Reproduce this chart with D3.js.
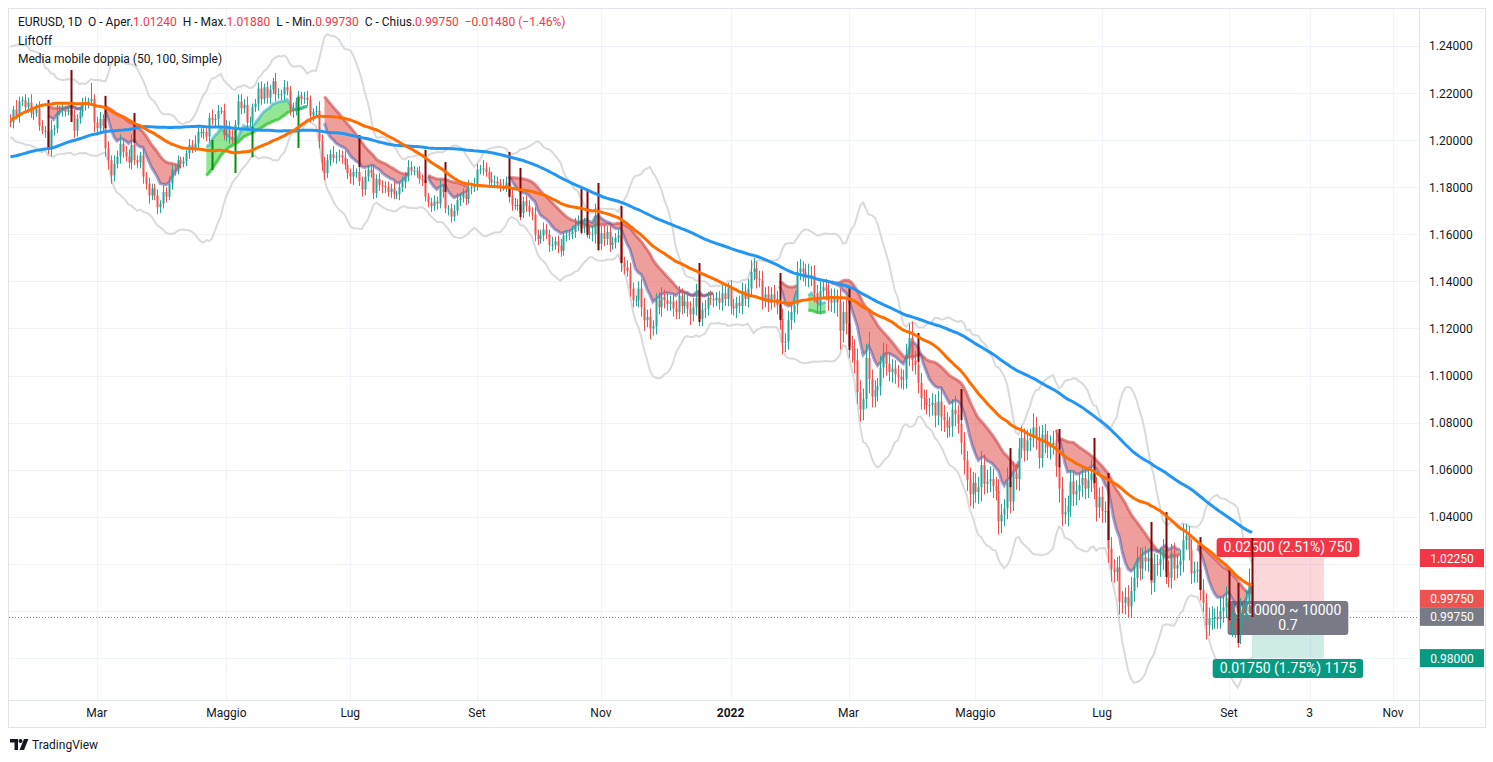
<!DOCTYPE html>
<html>
<head>
<meta charset="utf-8">
<script src="https://cdn.jsdelivr.net/npm/d3@7"></script>
<style>
  body { margin: 0; background: #fff; font-family: Roboto, "Noto Sans", sans-serif; }
</style>
</head>
<body>
<div id="chart"></div>
<script>
// EURUSD daily closes, one per weekday, from 31 Aug 2020 (first 100 only feed the averages)
const startDate = "2020-08-31";
const firstShown = "2021-01-18";
const closes = [
  1.1935,1.1915,1.1855,1.1850,1.1840, 1.1815,1.1780,1.1800,1.1815,1.1845,
  1.1845,1.1845,1.1815,1.1845,1.1840, 1.1770,1.1705,1.1660,1.1670,1.1630,
  1.1665,1.1745,1.1720,1.1745,1.1715, 1.1780,1.1735,1.1760,1.1760,1.1825,
  1.1815,1.1745,1.1745,1.1705,1.1720, 1.1770,1.1825,1.1860,1.1815,1.1860,
  1.1810,1.1795,1.1745,1.1675,1.1645, 1.1640,1.1710,1.1725,1.1830,1.1875,
  1.1815,1.1780,1.1740,1.1775,1.1835, 1.1855,1.1865,1.1850,1.1870,1.1855,
  1.1840,1.1890,1.1920,1.1915,1.1960, 1.1925,1.2070,1.2115,1.2145,1.2120,
  1.2110,1.2105,1.2080,1.2135,1.2115, 1.2145,1.2155,1.2195,1.2265,1.2255,
  1.2240,1.2165,1.2190,1.2185,1.2185, 1.2215,1.2245,1.2295,1.2215,1.2215,
  1.2250,1.2295,1.2325,1.2270,1.2220, 1.2150,1.2205,1.2155,1.2155,1.2080,
  // shown from here
  1.2075,1.2130,1.2105,1.2165,1.2170, 1.2140,1.2160,1.2115,1.2115,1.2135,
  1.2060,1.2040,1.2035,1.1960,1.2045, 1.2050,1.2120,1.2125,1.2130,1.2120,
  1.2130,1.2105,1.2040,1.2090,1.2120, 1.2155,1.2150,1.2165,1.2175,1.2075,
  1.2050,1.2090,1.2060,1.1965,1.1915, 1.1850,1.1900,1.1930,1.1985,1.1950,
  1.1930,1.1905,1.1980,1.1915,1.1905, 1.1935,1.1845,1.1815,1.1765,1.1795,
  1.1765,1.1715,1.1730,1.1780,1.1760, 1.1815,1.1875,1.1870,1.1915,1.1900,
  1.1910,1.1945,1.1980,1.1965,1.1985, 1.2035,1.2035,1.2035,1.2015,1.2095,
  1.2085,1.2090,1.2125,1.2125,1.2020, 1.2060,1.2015,1.2005,1.2065,1.2165,
  1.2135,1.2150,1.2075,1.2080,1.2140, 1.2155,1.2220,1.2175,1.2225,1.2180,
  1.2215,1.2250,1.2195,1.2195,1.2195, 1.2225,1.2210,1.2130,1.2125,1.2165,
  1.2190,1.2175,1.2180,1.2170,1.2105, 1.2120,1.2125,1.1995,1.1905,1.1860,
  1.1915,1.1940,1.1925,1.1930,1.1935, 1.1925,1.1895,1.1860,1.1845,1.1865,
  1.1865,1.1825,1.1790,1.1845,1.1875, 1.1860,1.1775,1.1835,1.1810,1.1805,
  1.1800,1.1780,1.1795,1.1770,1.1770, 1.1800,1.1820,1.1845,1.1885,1.1870,
  1.1870,1.1865,1.1835,1.1830,1.1760, 1.1735,1.1720,1.1740,1.1730,1.1795,
  1.1780,1.1710,1.1710,1.1675,1.1700, 1.1745,1.1755,1.1770,1.1750,1.1795,
  1.1800,1.1810,1.1875,1.1875,1.1880, 1.1865,1.1835,1.1820,1.1825,1.1815,
  1.1805,1.1805,1.1820,1.1765,1.1725, 1.1725,1.1725,1.1690,1.1740,1.1720,
  1.1695,1.1685,1.1600,1.1580,1.1595, 1.1620,1.1600,1.1555,1.1555,1.1570,
  1.1550,1.1530,1.1595,1.1595,1.1600, 1.1610,1.1635,1.1650,1.1625,1.1645,
  1.1610,1.1600,1.1600,1.1680,1.1560, 1.1605,1.1580,1.1610,1.1555,1.1565,
  1.1585,1.1595,1.1480,1.1460,1.1445, 1.1370,1.1320,1.1320,1.1370,1.1290,
  1.1235,1.1250,1.1200,1.1210,1.1320, 1.1290,1.1335,1.1320,1.1305,1.1315,
  1.1285,1.1270,1.1340,1.1295,1.1315, 1.1285,1.1260,1.1290,1.1330,1.1240,
  1.1280,1.1285,1.1330,1.1325,1.1320, 1.1330,1.1310,1.1350,1.1325,1.1370,
  1.1295,1.1285,1.1310,1.1295,1.1360, 1.1325,1.1370,1.1440,1.1455,1.1410,
  1.1405,1.1325,1.1345,1.1310,1.1345, 1.1325,1.1300,1.1240,1.1140,1.1145,
  1.1235,1.1270,1.1300,1.1440,1.1455, 1.1440,1.1415,1.1425,1.1425,1.1350,
  1.1305,1.1360,1.1375,1.1360,1.1320, 1.1310,1.1330,1.1310,1.1190,1.1270,
  1.1220,1.1125,1.1115,1.1065,1.0930, 1.0855,1.0900,1.1075,1.0985,1.0910,
  1.0940,1.0955,1.1035,1.1095,1.1050, 1.1015,1.1030,1.1005,1.0995,1.0985,
  1.0985,1.1090,1.1160,1.1065,1.1045, 1.0970,1.0905,1.0900,1.0875,1.0875,
  1.0885,1.0830,1.0890,1.0825,1.0810, 1.0780,1.0785,1.0855,1.0835,1.0795,
  1.0715,1.0640,1.0555,1.0495,1.0545, 1.0505,1.0525,1.0620,1.0540,1.0550,
  1.0560,1.0530,1.0510,1.0380,1.0410, 1.0435,1.0550,1.0465,1.0585,1.0560,
  1.0690,1.0735,1.0680,1.0725,1.0735, 1.0780,1.0735,1.0650,1.0750,1.0720,
  1.0695,1.0705,1.0715,1.0615,1.0520, 1.0410,1.0420,1.0445,1.0550,1.0495,
  1.0510,1.0535,1.0565,1.0520,1.0555, 1.0585,1.0520,1.0440,1.0485,1.0425,
  1.0425,1.0265,1.0180,1.0165,1.0185, 1.0040,1.0035,1.0060,1.0020,1.0085,
  1.0140,1.0225,1.0180,1.0230,1.0210, 1.0225,1.0120,1.0200,1.0195,1.0220,
  1.0260,1.0165,1.0140,1.0245,1.0180, 1.0195,1.0215,1.0300,1.0320,1.0260,
  1.0160,1.0170,1.0175,1.0090,1.0035, 0.9940,0.9970,0.9970,0.9970,0.9965,
  1.0000,1.0015,1.0055,0.9945,0.9950, 0.9925,0.9905,1.0005,1.0000,1.0040,
  1.0120,0.9975
];

// wick lengths beyond the body, in pips, for every shown bar
const hiWick = [
  30,15,40,20,15, 25,20,35,15,20, 30,25,20,25,40, 15,30,20,25,15,
  20,35,25,20,15, 25,30,15,68,20, 25,30,20,25,30, 20,35,25,40,20,
  25,30,45,20,20, 15,30,20,25,20, 20,25,15,30,20, 30,20,25,20,15,
  20,15,25,20,35, 30,20,15,25,20, 35,20,25,15,30, 25,20,30,20,30,
  30,25,35,20,15, 20,25,30,15,25, 20,15,35,25,20, 30,25,20,30,15,
  20,15,25,30,20, 15,20,40,30,25, 25,20,35,20,25, 20,30,25,20,30,
  15,25,20,30,20, 25,35,20,25,20, 20,25,20,30,15, 20,25,20,30,25,
  20,15,25,20,30, 15,20,25,20,35, 20,25,15,20,25, 30,20,25,20,35,
  20,30,25,20,35, 25,20,30,25,20, 20,30,25,20,25, 30,25,35,20,25,
  25,20,30,20,25, 30,25,20,35,20, 25,30,20,25,20, 25,35,30,20,25,
  30,25,40,50,25, 30,35,25,30,25, 20,25,30,25,30, 35,25,20,30,40,
  40,30,35,25,30, 35,40,30,35,25, 30,35,40,30,35, 35,30,40,60,40,
  30,35,25,30,20, 25,30,35,30,25, 35,30,25,30,35, 30,40,50,45,30,
  35,40,30,35,30, 40,35,60,45,35, 40,35,40,45,40, 30,35,50,40,45,
  35,40,30,35,40, 50,40,35,60,45, 60,50,45,40,50, 50,45,60,110,40,
  40,35,50,45,40, 45,40,35,40,35, 40,45,60,70,40, 45,40,35,40,30,
  40,35,45,60,50, 35,40,45,60,40, 50,45,40,55,45, 40,45,60,45,50,
  55,45,40,50,45, 40,60,45,50,40, 45,50,40,45,40, 60,45,50,40,45,
  45,40,50,55,45, 50,60,45,50,40, 45,50,40,45,50, 60,45,50,40,45,
  40,45,50,40,45, 50,45,40,50,60, 60,50,45,40,45, 40,60,45,40,50,
  45,40,50,40,45, 40,45,70,50,40, 45,40,35,40,45, 40,45,50,40,50,
  60,45,50,40,45, 40,45,50,40,50, 60,68
];
const loWick = [
  20,25,15,30,20, 15,25,20,30,15, 20,15,25,20,30, 25,20,15,25,20,
  15,20,30,25,20, 20,25,15,20,40, 30,20,25,35,40, 35,25,20,30,25,
  20,25,30,20,25, 25,30,25,35,20, 20,30,25,20,25, 15,25,20,15,20,
  15,20,25,20,15, 20,25,30,20,25, 20,25,30,15,20, 25,30,20,25,20,
  25,20,30,20,25, 20,30,25,20,25, 25,20,30,20,25, 25,20,25,30,20,
  20,25,20,25,30, 25,20,30,35,30, 20,25,20,25,20, 25,20,25,30,35,
  25,20,30,25,20, 20,25,20,25,30, 25,20,25,20,20, 25,20,25,20,20,
  20,25,20,25,20, 20,25,20,25,20, 25,20,30,25,20, 20,25,20,25,20,
  25,20,25,20,25, 20,25,20,25,20, 25,20,25,30,25, 20,25,30,20,25,
  20,25,30,25,20, 25,20,30,25,20, 30,25,20,25,20, 20,25,20,25,20,
  25,20,30,40,30, 25,30,25,30,20, 25,20,40,30,25, 35,30,25,30,40,
  45,30,45,30,35, 30,40,35,30,30, 35,30,30,35,30, 35,45,30,35,30,
  30,35,30,25,30, 25,30,35,30,30, 35,30,40,30,35, 30,35,30,35,40,
  30,45,35,40,30, 35,40,45,50,40, 35,40,45,40,35, 40,35,40,45,40,
  40,45,35,40,45, 40,45,60,80,50, 45,50,60,55,50, 50,45,40,60,45,
  45,50,40,45,50, 40,45,40,45,40, 45,40,50,45,40, 45,50,45,40,50,
  45,50,40,60,50, 45,40,45,50,40, 50,60,45,50,60, 45,50,60,45,40,
  45,50,40,55,50, 50,45,50,40,45, 50,40,45,40,45, 40,50,45,40,50,
  45,50,40,45,60, 50,40,60,45,50, 45,40,50,45,40, 50,45,60,45,50,
  50,60,55,45,40, 55,45,50,50,45, 45,40,50,45,40, 45,50,40,45,50,
  45,50,40,45,50, 40,45,50,40,45, 45,40,50,45,40, 60,45,50,45,40,
  40,50,45,40,55, 40,60,45,50,40, 45,2
];

const priceTicks = [1.24, 1.22, 1.20, 1.18, 1.16, 1.14, 1.12, 1.10, 1.08, 1.06, 1.04, 1.02, 1.00, 0.98];
const timeTickDates = ["2021-03-01", "2021-05-03", "2021-07-01", "2021-09-01", "2021-11-01", "2022-01-03",
                       "2022-03-01", "2022-05-02", "2022-07-01", "2022-09-01", "2022-10-03", "2022-11-01"];
const timeTickLabels = ["Mar", "Maggio", "Lug", "Set", "Nov", "2022", "Mar", "Maggio", "Lug", "Set", "3", "Nov"];

// LiftOff ribbon stretches
const ribbonStart = ["2021-02-04", "2021-03-04", "2021-04-22", "2021-06-18", "2021-08-09", "2021-09-16",
                     "2022-01-26", "2022-02-09", "2022-02-21", "2022-06-09", "2022-08-17"];
const ribbonEnd   = ["2021-02-22", "2021-04-09", "2021-06-10", "2021-07-29", "2021-08-27", "2021-12-24",
                     "2022-02-03", "2022-02-17", "2022-05-23", "2022-08-09", "2022-09-13"];
const ribbonSide  = ["dn", "dn", "up", "dn", "dn", "dn", "dn", "up", "dn", "dn", "dn"];

// LiftOff signal bars
const signalDates = ["2021-02-04", "2021-02-16", "2021-03-04", "2021-03-18", "2021-04-26", "2021-05-06", "2021-05-14",
  "2021-06-07", "2021-07-06", "2021-08-06", "2021-08-17", "2021-09-16", "2021-09-22", "2021-10-21", "2021-10-25",
  "2021-10-29", "2021-11-10", "2021-12-17", "2022-01-26", "2022-03-01", "2022-04-04", "2022-04-25", "2022-05-18",
  "2022-06-10", "2022-06-28", "2022-07-05", "2022-07-26", "2022-08-02", "2022-08-18", "2022-09-01", "2022-09-06",
  "2022-09-13"];
const signalHigh = [1.2171, 1.2298, 1.2188, 1.2115, 1.2001, 1.2043, 1.2056, 1.2183, 1.2022, 1.1958, 1.1907, 1.1950,
  1.1882, 1.1792, 1.1788, 1.1818, 1.1720, 1.1478, 1.1436, 1.1372, 1.1181, 1.0943, 1.0692, 1.0773, 1.0735, 1.0586,
  1.0378, 1.0420, 1.0314, 1.0182, 1.0119, 1.0310];
const signalLow = [1.1958, 1.2077, 1.2052, 1.1988, 1.1873, 1.1860, 1.1928, 1.1967, 1.1886, 1.1818, 1.1780, 1.1758,
  1.1673, 1.1606, 1.1597, 1.1533, 1.1478, 1.1227, 1.1236, 1.1108, 1.1058, 1.0811, 1.0526, 1.0611, 1.0543, 1.0301,
  1.0131, 1.0144, 1.0089, 0.9961, 0.9864, 0.9974];
const signalSide = ["dn", "dn", "dn", "dn", "up", "up", "up", "up", "dn", "dn", "dn", "dn", "dn", "dn", "dn", "dn",
  "dn", "dn", "dn", "dn", "dn", "dn", "dn", "dn", "dn", "dn", "dn", "dn", "dn", "dn", "dn", "dn"];

// short position drawing
const entryPrice = 0.9975, stopPrice = 1.0225, targetPrice = 0.98;
const positionEnd = "2022-10-08";
const stopText = "0.02500 (2.51%) 750";
const midText = ["0.00000 ~ 10000", "0.7"];
const targetText = "0.01750 (1.75%) 1175";

const headerParts = [
  ["EURUSD, 1D  ", "k"], ["O - Aper.", "k"], ["1.01240", "r"], ["  H - Max.", "k"], ["1.01880", "r"],
  ["  L - Min.", "k"], ["0.99730", "r"], ["  C - Chius.", "k"], ["0.99750", "r"], ["  \u22120.01480 (\u22121.46%)", "r"]
];

// ---------------------------------------------------------------
const W = 1493, H = 762;
const plot = { left: 9, right: 1419, top: 9, bottom: 700 };
const red = "#ef5350", teal = "#26a69a";
const bandWidth = 3; // envelope width in standard deviations

const parse = d3.utcParse("%Y-%m-%d");
const dates = [];
for (let d = parse(startDate); dates.length < closes.length; d = d3.utcDay.offset(d, 1)) {
  if (d.getUTCDay() % 6 !== 0) dates.push(d);
}
const dateNums = dates.map(Number);
const firstIdx = dateNums.indexOf(+parse(firstShown));
const lastDate = dates[dates.length - 1];

// rolling helpers (a short start simply uses what is there)
function smaOf(arr, n) {
  return arr.map((v, k) => d3.mean(arr.slice(Math.max(0, k - n + 1), k + 1)));
}
function emaOf(arr, n) {
  const a = 2 / (n + 1); let e = arr[0];
  return arr.map(v => (e = a * v + (1 - a) * e));
}
const sma20 = smaOf(closes, 20), sma50 = smaOf(closes, 50), sma100 = smaOf(closes, 100);
const sd20 = closes.map((c, k) => d3.deviation(closes.slice(k - 19, k + 1)) * Math.sqrt(19 / 20));

const bars = dates.slice(firstIdx).map((date, i) => {
  const k = firstIdx + i;
  const o = closes[k - 1], c = closes[k];
  return {
    i, date, o, c,
    h: Math.max(o, c) + hiWick[i] / 1e4,
    l: Math.min(o, c) - loWick[i] / 1e4,
    m50: sma50[k], m100: sma100[k],
    up: sma20[k] + bandWidth * sd20[k], lo: sma20[k] - bandWidth * sd20[k]
  };
});
// LiftOff lines: averages of highs (bearish) and lows (bullish)
const hS = smaOf(bars.map(b => b.h), 20), hE = emaOf(bars.map(b => b.h), 6);
const lS = smaOf(bars.map(b => b.l), 20), lE = emaOf(bars.map(b => b.l), 6);
bars.forEach((b, i) => { b.hs = hS[i]; b.he = hE[i]; b.ls = lS[i]; b.le = lE[i]; });

function pos(s) {
  const t = +(typeof s === "string" ? parse(s) : s);
  if (t <= +lastDate) return d3.bisectLeft(dateNums, t) - firstIdx;
  return (bars.length - 1) + d3.utcDay.count(lastDate, new Date(t));
}

const x = d3.scaleLinear().domain([-0.5, 489]).range([plot.left, plot.right]);
const y = d3.scaleLinear().domain([0.9622, 1.2557]).range([plot.bottom, plot.top]);

const svg = d3.select("#chart").append("svg").attr("width", W).attr("height", H)
  .style("font-family", "Roboto, 'Noto Sans', sans-serif");

svg.append("defs").append("clipPath").attr("id", "clip")
  .append("rect").attr("x", plot.left).attr("y", plot.top)
  .attr("width", plot.right - plot.left).attr("height", plot.bottom - plot.top);

// grid
const grid = svg.append("g").attr("stroke", "#f0f3fa").attr("stroke-width", 1);
grid.selectAll(".h").data(priceTicks).join("line")
  .attr("x1", plot.left).attr("x2", plot.right)
  .attr("y1", d => Math.round(y(d)) + 0.5).attr("y2", d => Math.round(y(d)) + 0.5);
grid.selectAll(".v").data(timeTickDates).join("line")
  .attr("y1", plot.top).attr("y2", plot.bottom)
  .attr("x1", d => Math.round(x(pos(d))) + 0.5).attr("x2", d => Math.round(x(pos(d))) + 0.5);

const chart = svg.append("g").attr("clip-path", "url(#clip)");

// envelope
const line = key => d3.line().x(d => x(d.i)).y(d => y(d[key]));
["up", "lo"].forEach(k => {
  chart.append("path").datum(bars).attr("d", line(k))
    .attr("fill", "none").attr("stroke", "#dadada").attr("stroke-width", 2);
});

// position tool
const px0 = x(pos(lastDate)), px1 = x(pos(positionEnd));
chart.append("rect").attr("x", px0).attr("width", px1 - px0)
  .attr("y", y(stopPrice)).attr("height", y(entryPrice) - y(stopPrice))
  .attr("fill", "rgba(242,54,69,0.2)");
chart.append("rect").attr("x", px0).attr("width", px1 - px0)
  .attr("y", y(entryPrice)).attr("height", y(targetPrice) - y(entryPrice))
  .attr("fill", "rgba(8,153,129,0.2)");

function tag(g, lines, cx, yTop, fill, fs) {
  const grp = g.append("g");
  const rect = grp.append("rect").attr("fill", fill).attr("rx", 3);
  const texts = lines.map((t, j) => grp.append("text").text(t)
    .attr("x", cx).attr("text-anchor", "middle").attr("fill", "#fff")
    .attr("font-size", fs).attr("y", yTop + 14 + j * 15));
  const w = d3.max(texts, t => t.node().getComputedTextLength()) + 14;
  rect.attr("x", cx - w / 2).attr("width", w).attr("y", yTop).attr("height", 4 + lines.length * 15);
}
const pcx = (px0 + px1) / 2;
tag(chart, [stopText], pcx, y(stopPrice) - 20, "#f23645", 14);
tag(chart, midText, pcx, y(entryPrice) - 16, "#787b86", 14);
tag(chart, [targetText], pcx, y(targetPrice) + 1, "#089981", 14);

// LiftOff ribbons
ribbonStart.forEach((s, j) => {
  const seg = bars.slice(pos(s), pos(ribbonEnd[j]) + 1);
  const dn = ribbonSide[j] === "dn";
  const slow = dn ? "hs" : "ls", fast = dn ? "he" : "le";
  chart.append("path").datum(seg)
    .attr("d", d3.area().x(d => x(d.i)).y0(d => y(d[slow])).y1(d => y(d[fast])))
    .attr("fill", dn ? "rgba(222,70,66,0.52)" : "rgba(60,210,60,0.55)");
  chart.append("path").datum(seg).attr("d", line(slow)).attr("fill", "none")
    .attr("stroke", dn ? "rgba(205,70,70,0.6)" : "rgba(60,200,60,0.85)").attr("stroke-width", 3);
  chart.append("path").datum(seg).attr("d", line(fast)).attr("fill", "none")
    .attr("stroke", dn ? "rgba(70,80,170,0.5)" : "rgba(40,170,200,0.55)").attr("stroke-width", 3);
});

// candles
const candle = chart.selectAll(".c").data(bars).join("g")
  .attr("fill", d => d.c >= d.o ? teal : red).attr("stroke", d => d.c >= d.o ? teal : red);
candle.append("line")
  .attr("x1", d => Math.round(x(d.i)) + 0.5).attr("x2", d => Math.round(x(d.i)) + 0.5)
  .attr("y1", d => y(d.h)).attr("y2", d => y(d.l));
candle.append("rect").attr("stroke", "none")
  .attr("x", d => Math.round(x(d.i)) - 0.5).attr("width", 2)
  .attr("y", d => y(Math.max(d.o, d.c)))
  .attr("height", d => Math.max(1, y(Math.min(d.o, d.c)) - y(Math.max(d.o, d.c))));

// signal bars
chart.selectAll(".sig").data(signalDates).join("line")
  .attr("x1", d => Math.round(x(pos(d))) + 0.5).attr("x2", d => Math.round(x(pos(d))) + 0.5)
  .attr("y1", (d, j) => y(signalHigh[j])).attr("y2", (d, j) => y(signalLow[j]))
  .attr("stroke", (d, j) => signalSide[j] === "dn" ? "#7a0a0a" : "#0a8a0a").attr("stroke-width", 2);

// moving averages
chart.append("path").datum(bars).attr("d", line("m100"))
  .attr("fill", "none").attr("stroke", "#2196f3").attr("stroke-width", 3);
chart.append("path").datum(bars).attr("d", line("m50"))
  .attr("fill", "none").attr("stroke", "#ff6d00").attr("stroke-width", 3);

// last price line
const last = bars[bars.length - 1];
svg.append("line").attr("x1", plot.left).attr("x2", plot.right)
  .attr("y1", Math.round(y(last.c)) + 0.5).attr("y2", Math.round(y(last.c)) + 0.5)
  .attr("stroke", red).attr("stroke-dasharray", "1,2");

// frame and axes
svg.append("rect").attr("x", 8.5).attr("y", 8.5).attr("width", 1477).attr("height", 719)
  .attr("fill", "none").attr("stroke", "#e0e3eb");
svg.append("line").attr("x1", plot.right + 0.5).attr("x2", plot.right + 0.5)
  .attr("y1", 9).attr("y2", 727).attr("stroke", "#e0e3eb");
svg.append("line").attr("x1", 9).attr("x2", 1486)
  .attr("y1", plot.bottom + 0.5).attr("y2", plot.bottom + 0.5).attr("stroke", "#e0e3eb");

// price axis: tags cover the tick labels they sit on
const tagPrices = [stopPrice, last.c, entryPrice, targetPrice];
const tagShift = [0, -18, 0, 0];
const tagFill = ["#f23645", red, "#787b86", "#089981"];
const tagY = tagPrices.map((p, j) => y(p) + tagShift[j]);
svg.append("g").selectAll("text")
  .data(priceTicks.filter(p => tagY.every(t => Math.abs(y(p) - t) > 13)))
  .join("text")
  .attr("x", 1429).attr("y", d => y(d) + 4.5).attr("font-size", 12).attr("fill", "#131722")
  .text(d => d3.format(".5f")(d));

tagPrices.forEach((p, j) => {
  svg.append("rect").attr("x", plot.right + 1).attr("y", tagY[j] - 9).attr("width", 64).attr("height", 18)
    .attr("fill", tagFill[j]);
  svg.append("text").attr("x", 1452).attr("y", tagY[j] + 4.5).attr("text-anchor", "middle")
    .attr("font-size", 12).attr("fill", "#fff").text(d3.format(".5f")(p));
});

svg.append("g").selectAll("text").data(timeTickDates).join("text")
  .attr("x", d => x(pos(d))).attr("y", 717).attr("text-anchor", "middle")
  .attr("font-size", 12).attr("fill", "#131722")
  .attr("font-weight", (d, j) => /^\d{4}$/.test(timeTickLabels[j]) ? 700 : 400)
  .text((d, j) => timeTickLabels[j]);

// header legend
const head = svg.append("text").attr("x", 18).attr("y", 26).attr("font-size", 12).style("white-space", "pre");
headerParts.forEach(p => head.append("tspan").text(p[0]).attr("fill", p[1] === "r" ? "#f23645" : "#131722"));
svg.append("text").attr("x", 18).attr("y", 45).attr("font-size", 12).attr("fill", "#131722").text("LiftOff");
svg.append("text").attr("x", 18).attr("y", 63).attr("font-size", 12).attr("fill", "#131722")
  .text("Media mobile doppia (50, 100, Simple)");

// footer logo
const logo = svg.append("g").attr("fill", "#131722");
logo.append("path").attr("d", "M10 739 h8 v11 h-3.5 v-7.5 h-4.5 z");
logo.append("circle").attr("cx", 20.5).attr("cy", 741).attr("r", 2);
logo.append("path").attr("d", "M24 739 h4.5 l-4.5 11 h-4.5 z");
svg.append("text").attr("x", 32).attr("y", 749).attr("font-size", 12).attr("fill", "#131722").text("TradingView");
</script>
</body>
</html>
